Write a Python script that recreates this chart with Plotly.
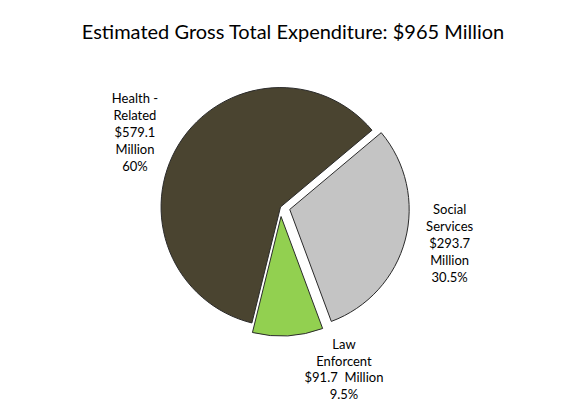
import plotly.graph_objects as go

# Expenditure breakdown (USD millions)
categories = ['Social Services', 'Law Enforcement', 'Health - Related']
values = [293.7, 91.7, 579.1]
percents = ['30.5%', '9.5%', '60%']
label_text = [
    'Social<br>Services<br>$293.7<br>Million<br>30.5%',
    'Law<br>Enforcent<br>$91.7  Million<br>9.5%',
    'Health -<br>Related<br>$579.1<br>Million<br>60%',
]
colors = ['#c4c4c4', '#92d050', '#4a4430']

fig = go.Figure(go.Pie(
    labels=categories,
    values=values,
    text=label_text,
    textinfo='text',
    textposition='outside',
    hoverinfo='label+value',
    sort=False,
    direction='clockwise',
    rotation=50,
    pull=[0.08, 0.08, 0],
    marker=dict(colors=colors, line=dict(color='#2a2a2a', width=1)),
    textfont=dict(size=13, color='black', family='Lato'),
    showlegend=False,
))

fig.update_layout(
    title=dict(text='Estimated Gross Total Expenditure: $965 Million',
               x=0.5, y=0.96, font=dict(size=20, color='black', family='Lato')),
    width=570, height=419,
    margin=dict(l=90, r=90, t=70, b=40),
    paper_bgcolor='white',
    font=dict(family='Lato'),
)

fig.write_html("out.html")
